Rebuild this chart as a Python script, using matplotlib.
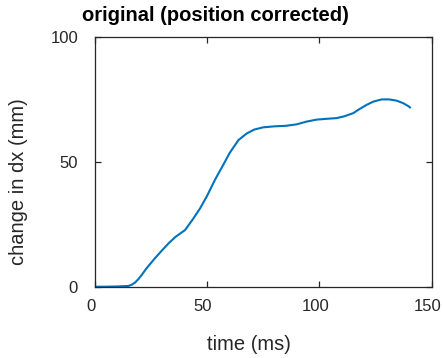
import numpy as np
from matplotlib import pyplot as plt
from matplotlib.transforms import ScaledTranslation

plt.rcParams['font.family'] = ['Liberation Sans', 'DejaVu Sans']

# displacement trace, read at sample times (ms)
t = [0, 5, 10, 15, 16.5, 18, 19.4, 21, 23, 26.8, 30, 33, 36, 40.2, 43.5, 46.9, 50, 53.5,
     57, 60, 61.7, 64, 67.6, 71, 75.0, 80, 85, 89.9, 94.3, 98.8, 103, 107.7, 111,
     115.1, 118, 121.0, 124, 127.7, 131, 134.4, 137.3, 139.6, 140.3]
dx = [0, 0, 0.1, 0.3, 0.8, 1.7, 3.0, 4.8, 7.3, 11.4, 14.6, 17.5, 20.0, 22.7, 26.8, 31.4,
      36.4, 42.8, 48.5, 53.5, 55.8, 58.8, 61.4, 63.0, 63.9, 64.3, 64.5, 65.1, 66.2, 67.0,
      67.3, 67.6, 68.3, 69.6, 71.3, 72.9, 74.2, 75.1, 75.1, 74.6, 73.6, 72.4, 71.9]

xticks = [0, 50, 100, 150]
yticks = [0, 50, 100]

W, H = 443, 358
fig = plt.figure(figsize=(W / 100, H / 100), dpi=100)
ax = fig.add_axes([94.7 / W, 1 - 286.7 / H, 337 / W, 249.4 / H])
ax.plot(t, dx, color=(0, 0.447, 0.741), lw=1.5)

ax.set_xlim(0, 150)
ax.set_ylim(0, 100)
ax.set_xticks(xticks)
ax.set_yticks(yticks)

dark = (0.15, 0.15, 0.15)
for s in ax.spines.values():
    s.set_color(dark)
    s.set_linewidth(0.9)
ax.tick_params(direction='in', length=4, width=0.9, colors=dark, labelsize=12,
               top=True, right=True)
ax.tick_params(axis='y', pad=12)
ax.tick_params(axis='x', pad=9)

# nudge x tick labels a little to the left
shift = ScaledTranslation(-4 / 100, 0, fig.dpi_scale_trans)
for lbl in ax.get_xticklabels():
    lbl.set_transform(lbl.get_transform() + shift)

# labels and title sit slightly left/below of the axes centre
fig.text(248.5 / W, 1 - 345 / H, 'time (ms)', fontsize=14.5, color=dark,
         ha='center', va='center')
fig.text(19 / W, 1 - 182 / H, 'change in dx (mm)', fontsize=14.5, color=dark,
         ha='center', va='center', rotation=90)
fig.text(82 / W, 1 - 21 / H, 'original (position corrected)', fontsize=14.5,
         fontweight='bold', ha='left', va='baseline')

fig.savefig('out.png', dpi=100)
